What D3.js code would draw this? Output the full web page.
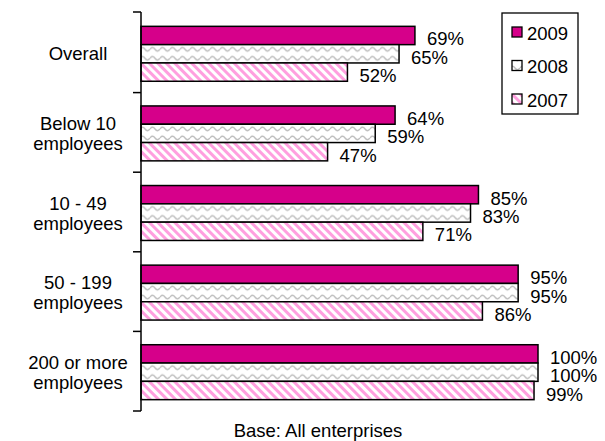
<!DOCTYPE html>
<html>
<head>
<meta charset="utf-8">
<script src="https://cdn.jsdelivr.net/npm/d3@7"></script>
<style>
  body { margin: 0; background: #fff; }
  svg text { font-family: Arial, "Liberation Sans", sans-serif; fill: #000; }
</style>
</head>
<body>
<svg id="chart"></svg>
<script>
// Datos
var categories = ['Overall', 'Below 10 employees', '10 - 49 employees',
    '50 - 199 employees', '200 or more employees'];
var catLines = [['Overall'], ['Below 10', 'employees'], ['10 - 49', 'employees'],
    ['50 - 199', 'employees'], ['200 or more', 'employees']];
var years = ['2009', '2008', '2007'];
var values2009 = [69, 64, 85, 95, 100];
var values2008 = [65, 59, 83, 95, 100];
var values2007 = [52, 47, 71, 86, 99];
var footnote = 'Base: All enterprises';

var w = 605,
    h = 441,
    fontSize = 18.5;

var svg = d3.select('#chart')
    .attr('width', w)
    .attr('height', h);

// Patrones de relleno
var defs = svg.append('defs');

var wave = defs.append('pattern')
    .attr('id', 'wave')
    .attr('patternUnits', 'userSpaceOnUse')
    .attr('width', 10)
    .attr('height', 9);
wave.append('rect').attr('width', 10).attr('height', 9).attr('fill', '#fff');
wave.append('path')
    .attr('d', 'M0,5 Q2.5,1.5 5,5 T10,5')
    .attr('fill', 'none')
    .attr('stroke', '#bdbdbd')
    .attr('stroke-width', 1.3);

var stripe = defs.append('pattern')
    .attr('id', 'stripe')
    .attr('patternUnits', 'userSpaceOnUse')
    .attr('width', 6)
    .attr('height', 6)
    .attr('patternTransform', 'rotate(-45)');
stripe.append('rect').attr('width', 6).attr('height', 6).attr('fill', '#fff');
stripe.append('rect').attr('width', 3).attr('height', 6).attr('fill', '#ff9fdf');

var fills = {
    '2009': '#d6008a',
    '2008': 'url(#wave)',
    '2007': 'url(#stripe)'
};

var series = years.map(function(y, j) {
    var vals = [values2009, values2008, values2007][j];
    return { year: y, values: vals };
});

// Escalas
var x0 = 141;
var xScale = d3.scaleLinear()
    .domain([0, 100])
    .range([x0, 538]);

var yScale = d3.scaleBand()
    .domain(categories)
    .range([13, 411])
    .paddingInner(0.31)
    .paddingOuter(0.155);

var ySub = d3.scaleBand()
    .domain(years)
    .range([0, yScale.bandwidth()]);

// Barras
var groups = svg.selectAll('g.cat')
    .data(categories)
    .enter()
    .append('g')
    .attr('class', 'cat')
    .attr('transform', function(d) {
        return 'translate(0,' + (yScale(d) + 1) + ')';
    });

groups.selectAll('rect')
    .data(function(d, i) {
        return series.map(function(s) {
            return { year: s.year, value: s.values[i] };
        });
    })
    .enter()
    .append('rect')
    .attr('x', x0)
    .attr('y', function(d) { return ySub(d.year); })
    .attr('width', function(d) { return xScale(d.value) - x0; })
    .attr('height', ySub.bandwidth())
    .attr('fill', function(d) { return fills[d.year]; })
    .attr('stroke', '#000')
    .attr('stroke-width', 1.5);

groups.selectAll('text.val')
    .data(function(d, i) {
        return series.map(function(s) {
            return { year: s.year, value: s.values[i] };
        });
    })
    .enter()
    .append('text')
    .attr('class', 'val')
    .attr('x', function(d) { return xScale(d.value) + 12; })
    .attr('y', function(d) { return ySub(d.year) + ySub.bandwidth() / 2 + 3.5; })
    .attr('dominant-baseline', 'central')
    .style('font-size', fontSize + 'px')
    .text(function(d) { return d.value + '%'; });

// Eje vertical
var axisTicks = [yScale.range()[0]].concat(categories.map(function(d) {
    return yScale(d) - yScale.step() * yScale.paddingInner() / 2 + yScale.step();
}));
axisTicks[0] = yScale.range()[0] - 1;
var axis = svg.append('g');
axis.append('line')
    .attr('x1', x0).attr('x2', x0)
    .attr('y1', axisTicks[0]).attr('y2', axisTicks[axisTicks.length - 1])
    .attr('stroke', '#000')
    .attr('stroke-width', 1.5);
axis.selectAll('line.tick')
    .data(axisTicks)
    .enter()
    .append('line')
    .attr('class', 'tick')
    .attr('x1', x0 - 8).attr('x2', x0)
    .attr('y1', function(d) { return d; })
    .attr('y2', function(d) { return d; })
    .attr('stroke', '#000')
    .attr('stroke-width', 1.5);

// Etiquetas de categoria
svg.selectAll('text.cat')
    .data(categories)
    .enter()
    .append('text')
    .attr('class', 'cat')
    .attr('text-anchor', 'middle')
    .style('font-size', fontSize + 'px')
    .each(function(d, i) {
        var lines = catLines[i];
        var cy = yScale(d) + yScale.bandwidth() / 2 + 1;
        var t = d3.select(this);
        lines.forEach(function(l, k) {
            t.append('tspan')
                .attr('x', 78)
                .attr('y', cy + (k - (lines.length - 1) / 2) * 20)
                .attr('dominant-baseline', 'central')
                .text(l);
        });
    });

// Leyenda
var legend = svg.append('g');
legend.append('rect')
    .attr('x', 502).attr('y', 13)
    .attr('width', 76).attr('height', 101)
    .attr('fill', '#fff')
    .attr('stroke', '#000')
    .attr('stroke-width', 1.3);
var legY = d3.scalePoint().domain(years).range([32, 99]);
legend.selectAll('rect.sw')
    .data(years)
    .enter()
    .append('rect')
    .attr('class', 'sw')
    .attr('x', 512)
    .attr('y', function(d) { return legY(d) - 5; })
    .attr('width', 10).attr('height', 10)
    .attr('fill', function(d) { return fills[d]; })
    .attr('stroke', '#000')
    .attr('stroke-width', 1.3);
legend.selectAll('text')
    .data(years)
    .enter()
    .append('text')
    .attr('x', 527)
    .attr('y', function(d) { return legY(d) + 1; })
    .attr('dominant-baseline', 'central')
    .style('font-size', fontSize + 'px')
    .text(function(d) { return d; });

// Nota al pie
svg.append('text')
    .attr('x', 318)
    .attr('y', 437)
    .attr('text-anchor', 'middle')
    .style('font-size', fontSize + 'px')
    .text(footnote);
</script>
</body>
</html>
